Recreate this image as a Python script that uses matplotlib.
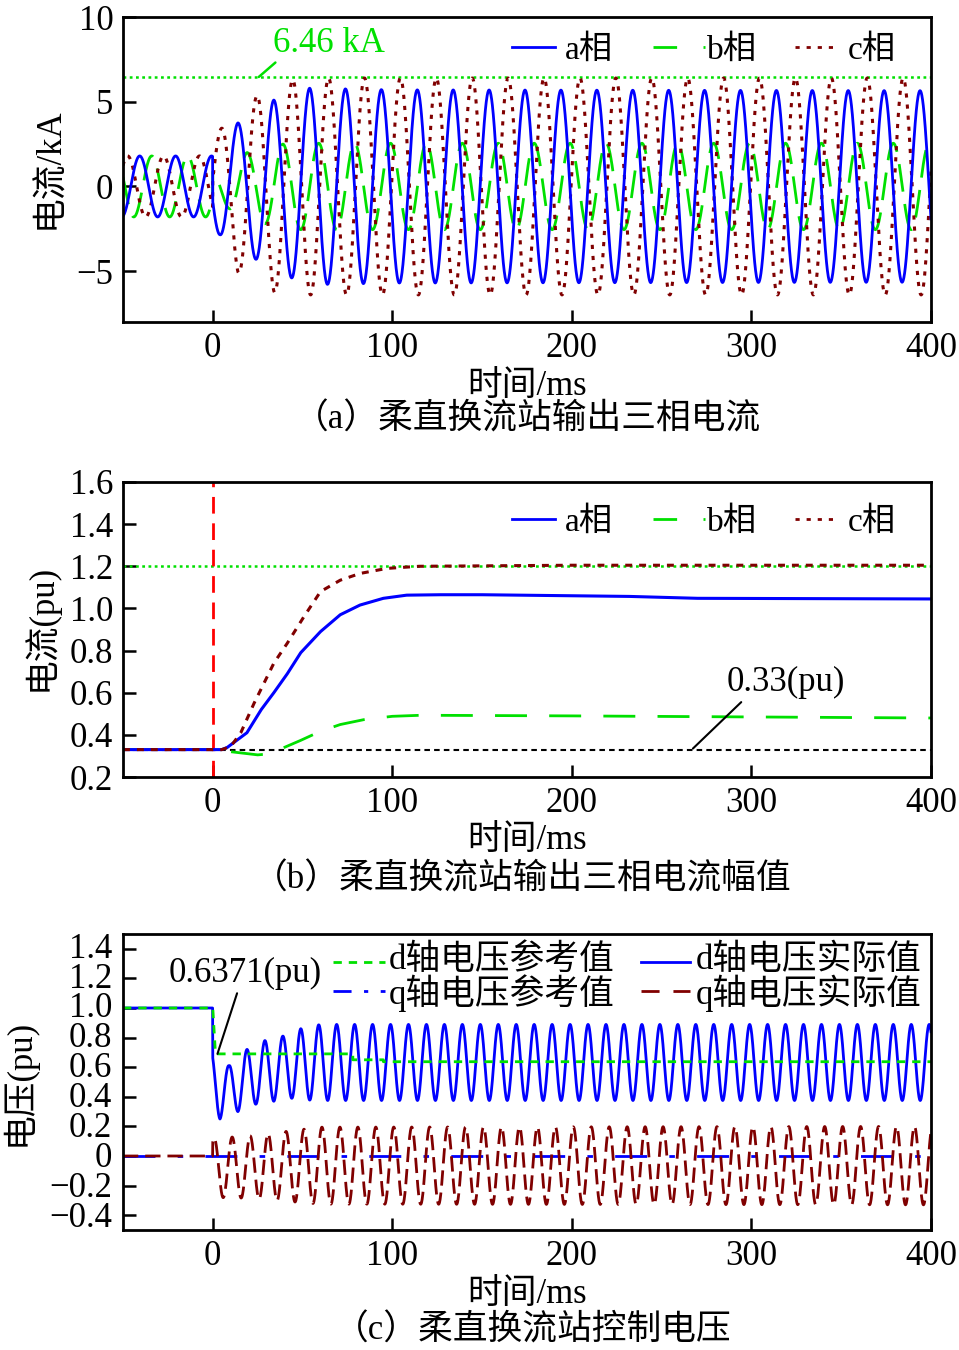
import numpy as np
import matplotlib
matplotlib.use('Agg')
import matplotlib.pyplot as plt
from matplotlib.lines import Line2D

plt.rcParams['font.family'] = ['Liberation Serif', 'Noto Sans CJK SC', 'DejaVu Sans']
plt.rcParams['lines.scale_dashes'] = False
plt.rcParams['axes.unicode_minus'] = True

# ---------------- data ----------------
T_START, T_END = -50.0, 400.0          # ms
F_GRID = 50.0                           # Hz, period 20 ms
F_DQ = 100.0                            # Hz, period 10 ms of dq oscillation
x_ticks = [0, 100, 200, 300, 400]

# (a) three-phase output current, kA
pre_amp_kA = [1.8, 1.8, 1.8]            # a, b, c before the fault
pre_peak_ms = [-0.7, 6.0, -7.4]         # time of a positive peak before the fault
post_peak_ms = [13.9, -1.0, 4.5]        # time of a positive peak after the fault
env_t_ms = [0, 4, 9, 14, 19, 24, 29, 34, 39, 44, 54, 100, 400]
ia_env = [2.7, 2.85, 3.3, 3.75, 4.0, 4.3, 4.7, 5.1, 5.25, 5.4, 5.8, 5.7, 5.65]
ib_env = [0.9, 1.0, 1.3, 1.7, 2.0, 2.1, 2.2, 2.35, 2.5, 2.55, 2.55, 2.55, 2.55]
ic_env = [2.8, 3.3, 4.2, 5.1, 5.2, 5.3, 5.8, 6.25, 6.3, 6.3, 6.4, 6.4, 6.4]
peak_limit_kA = 6.46
a_yticks = [-5, 0, 5, 10]

# (b) three-phase current magnitude, pu
ia_mag_t = [-50, 5, 8, 19, 27, 34, 41.5, 49, 60, 71, 82, 95, 108, 127, 150, 232, 270, 400]
ia_mag = [0.33, 0.33, 0.34, 0.41, 0.52, 0.60, 0.69, 0.79, 0.89, 0.97, 1.016, 1.048, 1.063,
          1.065, 1.065, 1.057, 1.048, 1.045]
ib_mag_t = [-50, 5, 10, 25, 32, 37, 49, 60, 71, 84, 100, 116, 200, 300, 400]
ib_mag = [0.33, 0.33, 0.32, 0.305, 0.31, 0.33, 0.374, 0.417, 0.449, 0.472, 0.488, 0.493,
          0.49, 0.485, 0.48]
ic_mag_t = [-50, 5, 10, 15.6, 23, 28.5, 34, 41.5, 50.7, 60, 71, 82, 97, 115, 200, 400]
ic_mag = [0.33, 0.33, 0.345, 0.41, 0.55, 0.645, 0.74, 0.835, 0.96, 1.08, 1.134, 1.166,
          1.19, 1.2, 1.205, 1.205]
mag_limit_pu = 1.2
mag_initial_pu = 0.33
b_yticks = [0.2, 0.4, 0.6, 0.8, 1.0, 1.2, 1.4, 1.6]
b_yticklabels = ['0.2', '0.4', '0.6', '0.8', '1.0', '1.2', '1.4', '1.6']

# (c) control voltage, pu
dref_t = [-50, 0, 1.5, 78, 78, 95, 95, 400]
dref_v = [1.0, 1.0, 0.69, 0.69, 0.65, 0.65, 0.6371, 0.6371]
d_pre = 1.0
d_peak_ms = 9.0
d_knot_t = [0, 4, 9, 14, 19, 24, 29, 34, 39, 44, 49, 60, 400]
d_mean = [0.5, 0.45, 0.455, 0.49, 0.525, 0.55, 0.57, 0.585, 0.60, 0.61, 0.62, 0.632, 0.632]
d_amp = [0.2, 0.2, 0.155, 0.19, 0.195, 0.2, 0.21, 0.215, 0.21, 0.22, 0.24, 0.257, 0.257]
q_ref_v = 0.0
q_pre = 0.0
q_peak_ms = 0.8
q_knot_t = [0, 20, 60, 400]
q_mean = [-0.08, -0.075, -0.065, -0.065]
q_amp = [0.2, 0.21, 0.26, 0.265]
c_yticks = [-0.4, -0.2, 0, 0.2, 0.4, 0.6, 0.8, 1.0, 1.2, 1.4]
c_yticklabels = ['\u22120.4', '\u22120.2', '0', '0.2', '0.4', '0.6', '0.8', '1.0', '1.2', '1.4']

# ---------------- styling ----------------
BLUE = '#0000ff'
GREEN = '#00e000'
DRED = '#800000'
RED = '#ff0000'
FS = 25

W, H = 959, 1350
fig = plt.figure(figsize=(W / 100, H / 100), dpi=100)


def add_axes(top_px, bottom_px, left_px=123, right_px=931):
    return fig.add_axes([left_px / W, 1 - bottom_px / H, (right_px - left_px) / W,
                         (bottom_px - top_px) / H])


def style_axes(ax):
    for s in ax.spines.values():
        s.set_linewidth(2.0)
    ax.tick_params(direction='in', length=9, width=1.8, labelsize=FS, pad=7)
    ax.set_xlim(T_START, T_END)
    ax.set_xticks(x_ticks)


def fx(px):
    return px / W


def fy(py):
    return 1 - py / H


def leg_line(x0, x1, y, **kw):
    fig.add_artist(Line2D([fx(x0), fx(x1)], [fy(y), fy(y)], transform=fig.transFigure, **kw))


def leg_item(x0, x1, y, tx, text, **kw):
    leg_line(x0, x1, y, **kw)
    fig.text(fx(tx), fy(y + 3), text, ha='left', va='center', fontsize=FS - 1)


t = np.arange(T_START, T_END + 0.05, 0.1)
pre = t < 0


def phase_wave(i, env):
    a_pre = pre_amp_kA[i] * np.cos(2 * np.pi * F_GRID * (t - pre_peak_ms[i]) / 1000)
    amp = np.interp(t, env_t_ms, env)
    a_post = amp * np.cos(2 * np.pi * F_GRID * (t - post_peak_ms[i]) / 1000)
    return np.where(pre, a_pre, a_post)


ia = phase_wave(0, ia_env)
ib = phase_wave(1, ib_env)
ic = phase_wave(2, ic_env)

# ---------------- (a) ----------------
ax1 = add_axes(17, 322)
style_axes(ax1)
ax1.set_ylim(-8, 10)
ax1.set_yticks(a_yticks)
ax1.axhline(peak_limit_kA, color=GREEN, lw=1.8, dashes=[2, 2.5])
ax1.plot(t, ib, color=GREEN, lw=2.0, dashes=[20, 9])
ax1.plot(t, ic, color=DRED, lw=2.2, dashes=[3, 5])
ax1.plot(t, ia, color=BLUE, lw=2.0)
ax1.annotate('6.46 kA', xy=(25.6, peak_limit_kA), xytext=(64.7, 8.45), color=GREEN,
             fontsize=FS, ha='center', va='center',
             arrowprops=dict(arrowstyle='-', color=GREEN, lw=1.8, shrinkA=0, shrinkB=0,
                             relpos=(0.05, 0.0)))
fig.text(fx(50), fy(168), '电流/kA', rotation=90, ha='center', va='center', fontsize=FS)
fig.text(fx(527), fy(386), '时间/ms', ha='center', va='center', fontsize=FS)
fig.text(fx(527), fy(420), '（a）柔直换流站输出三相电流', ha='center', va='center', fontsize=FS)
leg_item(512, 555, 47, 565, 'a相', color=BLUE, lw=2.0)
leg_item(653, 705, 47, 707, 'b相', color=GREEN, lw=2.0, dashes=[17, 19])
leg_item(795, 838, 47, 848, 'c相', color=DRED, lw=2.0, dashes=[3, 5])

# ---------------- (b) ----------------
ax2 = add_axes(482, 777)
style_axes(ax2)
ax2.set_ylim(0.2, 1.6)
ax2.set_yticks(b_yticks)
ax2.set_yticklabels(b_yticklabels)
ax2.axhline(mag_limit_pu, color=GREEN, lw=1.8, dashes=[2, 2.5])
ax2.axhline(mag_initial_pu, color='black', lw=1.5, dashes=[4, 3])
ax2.axvline(0, color=RED, lw=2.0, dashes=[12, 7])
ax2.plot(ib_mag_t, ib_mag, color=GREEN, lw=2.0, dashes=[23, 16])
ax2.plot(ia_mag_t, ia_mag, color=BLUE, lw=2.2)
ax2.plot(ic_mag_t, ic_mag, color=DRED, lw=2.2, dashes=[5, 5])
ax2.annotate('0.33(pu)', xy=(267.4, mag_initial_pu + 0.005), xytext=(319, 0.647),
             fontsize=FS, ha='center', va='center',
             arrowprops=dict(arrowstyle='-', color='black', lw=1.5, shrinkA=0, shrinkB=0,
                             relpos=(0.15, 0.0)))
fig.text(fx(40), fy(627), '电流(pu)', rotation=90, ha='center', va='center', fontsize=FS)
fig.text(fx(527), fy(840), '时间/ms', ha='center', va='center', fontsize=FS)
fig.text(fx(522), fy(880), '（b）柔直换流站输出三相电流幅值', ha='center', va='center', fontsize=FS)
leg_item(512, 555, 519, 565, 'a相', color=BLUE, lw=2.0)
leg_item(653, 705, 519, 707, 'b相', color=GREEN, lw=2.0, dashes=[17, 19])
leg_item(795, 838, 519, 848, 'c相', color=DRED, lw=2.0, dashes=[3, 5])

# ---------------- (c) ----------------
d_act = np.where(pre, d_pre,
                 np.interp(t, d_knot_t, d_mean) + np.interp(t, d_knot_t, d_amp) *
                 np.cos(2 * np.pi * F_DQ * (t - d_peak_ms) / 1000))
q_act = np.where(pre, q_pre,
                 np.interp(t, q_knot_t, q_mean) + np.interp(t, q_knot_t, q_amp) *
                 np.cos(2 * np.pi * F_DQ * (t - q_peak_ms) / 1000))

ax3 = add_axes(934, 1230)
style_axes(ax3)
ax3.set_ylim(-0.5, 1.5)
ax3.set_yticks(c_yticks)
ax3.tick_params(axis='y', labelleft=False)
ax3.plot(t, d_act, color=BLUE, lw=2.0)
ax3.plot(dref_t, dref_v, color=GREEN, lw=2.0, dashes=[6, 5])
ax3.axhline(q_ref_v, color=BLUE, lw=2.0, dashes=[23, 16, 4, 16])
ax3.plot(t, q_act, color=DRED, lw=2.0, dashes=[11, 5])
ax3.annotate('0.6371(pu)', xy=(2.6, 0.69), xytext=(18.3, 1.23),
             fontsize=FS, ha='center', va='center',
             arrowprops=dict(arrowstyle='-', color='black', lw=1.5, shrinkA=0, shrinkB=0,
                             relpos=(0.45, 0.0)))

# The y tick labels of (c) sit closer together than their line height, so they are
# drawn as one right-aligned column text whose line pitch equals the tick pitch.
fig.canvas.draw()
r = fig.canvas.get_renderer()
p_top = ax3.transData.transform((0, c_yticks[-1]))[1]
p_bot = ax3.transData.transform((0, c_yticks[0]))[1]
step_px = (p_top - p_bot) / (len(c_yticks) - 1)
col_lines = list(reversed(c_yticklabels))
col_text = '\n'.join(col_lines)
n_lines = len(col_lines)
t2 = fig.text(0.5, 0.5, '\n'.join(col_lines[-2:]), fontsize=FS, linespacing=1.0)
tn = fig.text(0.5, 0.5, col_text, fontsize=FS, linespacing=1.0)
h2 = t2.get_window_extent(r).height
hn = tn.get_window_extent(r).height
t2.remove()
tn.remove()
dy1 = (hn - h2) / (n_lines - 2)
ls = step_px / dy1 * 0.977           # small correction measured on the rendered output
em_px = FS * fig.dpi / 72
last_baseline = p_bot - 0.335 * em_px      # digit centre ~0.335 em above baseline
fig.text(fx(112), last_baseline / fig.bbox.height, col_text, ha='right', va='baseline',
         ma='right', fontsize=FS, linespacing=ls)

fig.text(fx(18), fy(1082), '电压(pu)', rotation=90, ha='center', va='center', fontsize=FS)
fig.text(fx(527), fy(1294), '时间/ms', ha='center', va='center', fontsize=FS)
fig.text(fx(533), fy(1331), '（c）柔直换流站控制电压', ha='center', va='center', fontsize=FS)
# legend (c): two rows, each column one multi-line text
leg_line(333, 385, 962, color=GREEN, lw=2.0, dashes=[6, 5])
leg_line(333, 385, 991, color=BLUE, lw=2.0, dashes=[13, 9, 3, 9])
leg_line(641, 690, 962, color=BLUE, lw=2.0)
leg_line(641, 690, 991, color=DRED, lw=2.0, dashes=[13, 10])
fig.text(fx(389), fy(978), 'd轴电压参考值\nq轴电压参考值', ha='left', va='center',
         fontsize=FS, linespacing=0.92)
fig.text(fx(696), fy(978), 'd轴电压实际值\nq轴电压实际值', ha='left', va='center',
         fontsize=FS, linespacing=0.92)

fig.savefig('out.png', dpi=100)
